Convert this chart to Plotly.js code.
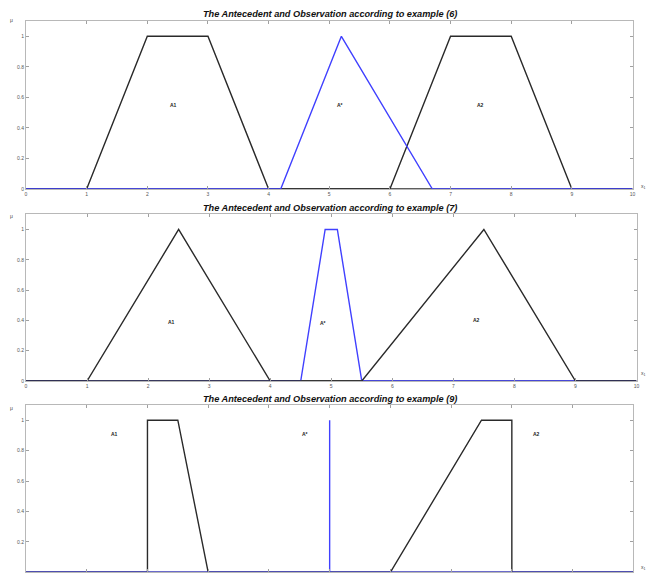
<!DOCTYPE html>
<html>
<head>
<meta charset="utf-8">
<script src="https://cdn.plot.ly/plotly-3.0.1.min.js"></script>
<style>html,body{margin:0;padding:0;background:#fff;}#chart{width:648px;height:573px;}</style>
</head>
<body>
<div id="chart"></div>
<script>
// ---- Data ----
const titles = [
  "The Antecedent and Observation according to example (6)",
  "The Antecedent and Observation according to example (7)",
  "The Antecedent and Observation according to example (9)"
];
// Example (6)
const ex6_A1_x = [0, 1, 2, 3, 4, 10];
const ex6_A1_y = [0, 0, 1, 1, 0, 0];
const ex6_A2_x = [0, 6, 7, 8, 9, 10];
const ex6_A2_y = [0, 0, 1, 1, 0, 0];
const ex6_As_x = [0, 4.2, 5.2, 6.7, 10];
const ex6_As_y = [0, 0, 1, 0, 0];
// Example (7)
const ex7_A1_x = [0, 1, 2.5, 4, 10];
const ex7_A1_y = [0, 0, 1, 0, 0];
const ex7_As_x = [0, 4.5, 4.9, 5.1, 5.5, 10];
const ex7_As_y = [0, 0, 1, 1, 0, 0];
const ex7_A2_x = [0, 5.5, 7.5, 9, 10];
const ex7_A2_y = [0, 0, 1, 0, 0];
// Example (9)
const ex9_A1_x = [0, 2, 2, 2.5, 3, 10];
const ex9_A1_y = [0, 0, 1, 1, 0, 0];
const ex9_A2_x = [0, 6, 7.5, 8, 8, 10];
const ex9_A2_y = [0, 0, 1, 1, 0, 0];
const ex9_As_x = [0, 5, 5, 5, 10];
const ex9_As_y = [0, 0, 1, 0, 0];
// Set labels
const labelText = ["A1", "A*", "A2"];
const ex6_label_x = [2.43, 5.18, 7.5];
const ex6_label_y = [0.55, 0.55, 0.55];
const ex7_label_x = [2.39, 4.87, 7.38];
const ex7_label_y = [0.39, 0.38, 0.40];
const ex9_label_x = [1.46, 4.6, 8.4];
const ex9_label_y = [0.91, 0.91, 0.91];
const xTicks = [0,1,2,3,4,5,6,7,8,9,10];
const yTicks = [0,0.2,0.4,0.6,0.8,1];
const yTickText = ["0","0.2","0.4","0.6","0.8","1"];

// ---- Styles ----
const BLACK = '#2a2a2a';
const BLUE = '#4040ff';
const LW = 1.4;
function tr(x, y, color, ax) {
  return {x: x, y: y, type: 'scatter', mode: 'lines', line: {color: color, width: LW},
          xaxis: 'x' + ax, yaxis: 'y' + ax, hoverinfo: 'skip', showlegend: false};
}
const data = [
  tr(ex6_A1_x, ex6_A1_y, BLACK, ''), tr(ex6_A2_x, ex6_A2_y, BLACK, ''), tr(ex6_As_x, ex6_As_y, BLUE, ''),
  tr(ex7_A1_x, ex7_A1_y, BLACK, '2'), tr(ex7_As_x, ex7_As_y, BLUE, '2'), tr(ex7_A2_x, ex7_A2_y, BLACK, '2'),
  tr(ex9_A1_x, ex9_A1_y, BLACK, '3'), tr(ex9_A2_x, ex9_A2_y, BLACK, '3'), tr(ex9_As_x, ex9_As_y, BLUE, '3')
];

const W = 648, H = 573;
const px = v => v / W;
const py = v => (H - v) / H;

function xa(domain, anchor, showLabels) {
  return {domain: domain, anchor: anchor, range: [0, 10], tickvals: xTicks, ticktext: xTicks.map(String),
    showticklabels: showLabels,
    showline: true, mirror: 'ticks', linecolor: '#b8b8b8', linewidth: 1, ticks: 'inside', ticklen: 3,
    tickcolor: '#a0a0a0', tickfont: {family: 'Liberation Sans, Arial', size: 5, color: '#555'},
    showgrid: false, zeroline: false, fixedrange: true};
}
function ya(domain, anchor) {
  return {domain: domain, anchor: anchor, range: [0, 1.1], tickvals: yTicks, ticktext: yTickText,
    showline: true, mirror: 'ticks', linecolor: '#b8b8b8', linewidth: 1, ticks: 'inside', ticklen: 3,
    tickcolor: '#a0a0a0', tickfont: {family: 'Liberation Sans, Arial', size: 5, color: '#555'},
    showgrid: false, zeroline: false, fixedrange: true};
}

const annotations = [];
const titleY = [14, 208, 399];
titles.forEach((t, i) => annotations.push({
  text: '<b><i>' + t + '</i></b>', xref: 'paper', yref: 'paper', x: px(330), y: py(titleY[i]),
  xanchor: 'center', yanchor: 'middle', showarrow: false,
  font: {family: 'Liberation Sans, Arial', size: 9.2, color: '#111'}
}));
const lblSets = [[ex6_label_x, ex6_label_y, ''], [ex7_label_x, ex7_label_y, '2'], [ex9_label_x, ex9_label_y, '3']];
lblSets.forEach(s => labelText.forEach((t, k) => annotations.push({
  text: '<b>' + t + '</b>', xref: 'x' + s[2], yref: 'y' + s[2], x: s[0][k], y: s[1][k],
  xanchor: 'center', yanchor: 'middle', showarrow: false,
  font: {family: 'Liberation Sans, Arial', size: 5, color: '#222'}
})));
const muY = [20, 216, 408];
const x1Y = [186, 373, 567];
for (let i = 0; i < 3; i++) {
  annotations.push({text: 'μ', xref: 'paper', yref: 'paper', x: px(11), y: py(muY[i]),
    xanchor: 'center', yanchor: 'middle', showarrow: false,
    font: {family: 'Liberation Sans, Arial', size: 5, color: '#444'}});
  annotations.push({text: 'x<sub>1</sub>', xref: 'paper', yref: 'paper', x: px(643), y: py(x1Y[i]),
    xanchor: 'center', yanchor: 'middle', showarrow: false,
    font: {family: 'Liberation Sans, Arial', size: 5, color: '#444'}});
}

const layout = {
  width: W, height: H, margin: {l: 0, r: 0, t: 0, b: 0}, paper_bgcolor: '#fff', plot_bgcolor: '#fff',
  showlegend: false,
  xaxis: xa([px(26), px(632.5)], 'y', true), yaxis: ya([py(189), py(21)], 'x'),
  xaxis2: xa([px(26), px(636.5)], 'y2', true), yaxis2: ya([py(381), py(214.3)], 'x2'),
  xaxis3: xa([px(26), px(633.3)], 'y3', false), yaxis3: ya([py(572.3), py(405)], 'x3'),
  annotations: annotations
};
Plotly.newPlot('chart', data, layout, {staticPlot: true, displayModeBar: false});
</script>
</body>
</html>
